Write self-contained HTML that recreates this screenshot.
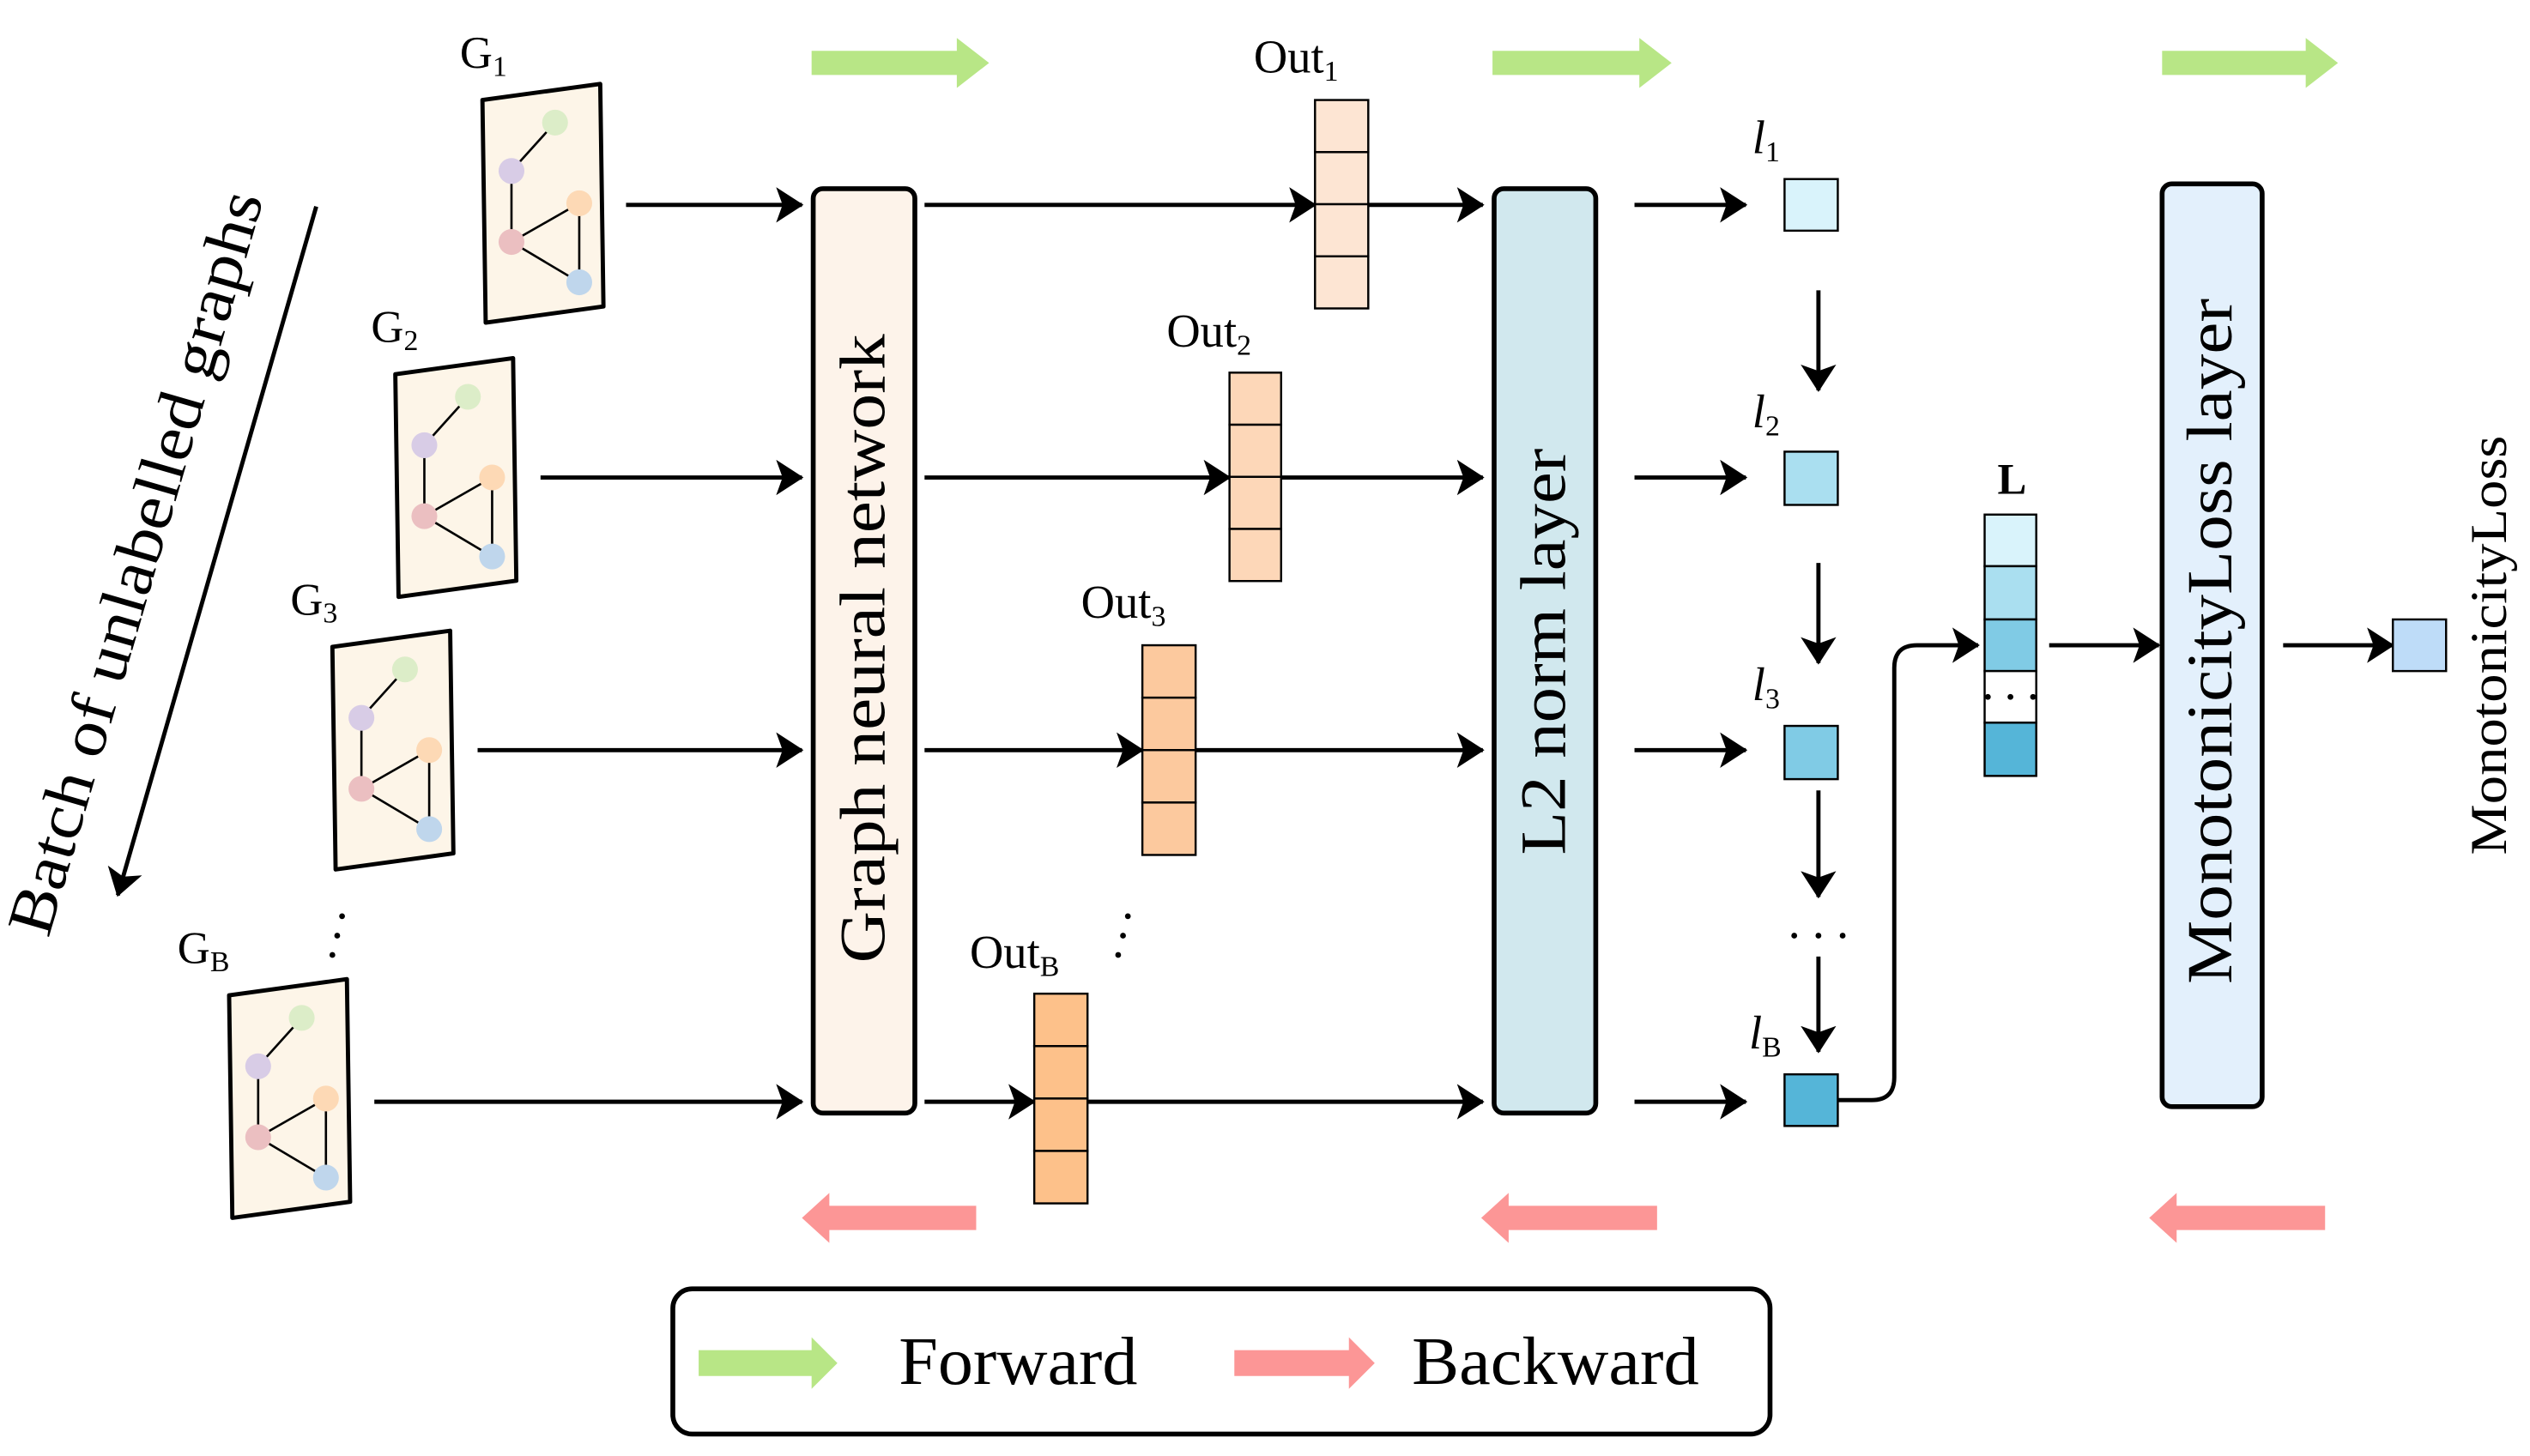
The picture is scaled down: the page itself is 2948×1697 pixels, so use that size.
<!DOCTYPE html>
<html><head><meta charset="utf-8"><style>
html,body{margin:0;padding:0;background:#fff;}
svg{display:block;}
text{font-family:"Liberation Serif",serif;fill:#000;}
</style></head><body>
<svg width="2948" height="1697" viewBox="0 0 1568 902.6" xmlns="http://www.w3.org/2000/svg">
<defs>
<marker id="ah" markerUnits="userSpaceOnUse" markerWidth="17" markerHeight="22" viewBox="0 0 17 22" refX="16" refY="11" orient="auto">
<path d="M0,0 L17,11 L0,22 L4,11 Z" fill="#000"/>
</marker>
<g id="card">
<path d="M299,62 L372,52 L374,190 L301,200 Z" fill="#fdf5e8" stroke="#000" stroke-width="2.6" stroke-linejoin="round"/>
<g stroke="#000" stroke-width="1.4">
<line x1="344" y1="76" x2="317" y2="106"/>
<line x1="317" y1="106" x2="317" y2="150"/>
<line x1="317" y1="150" x2="359" y2="126"/>
<line x1="317" y1="150" x2="359" y2="175"/>
<line x1="359" y1="126" x2="359" y2="175"/>
</g>
<circle cx="344" cy="76" r="8" fill="#dcedc8"/>
<circle cx="317" cy="106" r="8" fill="#d8cce6"/>
<circle cx="359" cy="126" r="8" fill="#fdd9b5"/>
<circle cx="317" cy="150" r="8" fill="#ebbfc1"/>
<circle cx="359" cy="175" r="8" fill="#bfd6ec"/>
</g>
</defs>

<g fill="#b8e686">
<path d="M503,31.5 H593 V23.5 L613,39 L593,54.5 V46.5 H503 Z"/>
<path d="M925,31.5 H1016 V23.5 L1036,39 L1016,54.5 V46.5 H925 Z"/>
<path d="M1340,31.5 H1429 V23.5 L1449,39 L1429,54.5 V46.5 H1340 Z"/>
</g>
<g fill="#fc9696">
<path d="M605,747.5 H514 V739.5 L497,755 L514,770.5 V762.5 H605 Z"/>
<path d="M1027,747.5 H935 V739.5 L918,755 L935,770.5 V762.5 H1027 Z"/>
<path d="M1441,747.5 H1349 V739.5 L1332,755 L1349,770.5 V762.5 H1441 Z"/>
</g>

<use href="#card"/>
<use href="#card" transform="translate(-54,170)"/>
<use href="#card" transform="translate(-93,339)"/>
<use href="#card" transform="translate(-157,555)"/>
<text x="285" y="42" font-size="28">G<tspan font-size="18" dy="5">1</tspan></text>
<text x="230" y="212" font-size="28">G<tspan font-size="18" dy="5">2</tspan></text>
<text x="180" y="381" font-size="28">G<tspan font-size="18" dy="5">3</tspan></text>
<text x="110" y="597" font-size="28">G<tspan font-size="18" dy="5">B</tspan></text>
<g fill="#000"><circle cx="206" cy="592" r="1.8"/><circle cx="209" cy="580" r="1.8"/><circle cx="212" cy="568" r="1.8"/></g>

<line x1="196" y1="128" x2="73" y2="555" stroke="#000" stroke-width="2.6" marker-end="url(#ah)"/>
<text transform="translate(30,582) rotate(-73.8)" font-size="40" textLength="478" lengthAdjust="spacingAndGlyphs">Batch of unlabelled graphs</text>

<g stroke="#000" stroke-width="2.6" fill="none" marker-end="url(#ah)">
<line x1="388" y1="127" x2="497" y2="127"/>
<line x1="335" y1="296" x2="497" y2="296"/>
<line x1="296" y1="465" x2="497" y2="465"/>
<line x1="232" y1="683" x2="497" y2="683"/>
</g>

<rect x="504" y="117" width="63" height="573" rx="6" fill="#fdf3ea" stroke="#000" stroke-width="3"/>
<text transform="translate(548,597) rotate(-90)" font-size="40" textLength="390" lengthAdjust="spacingAndGlyphs">Graph neural network</text>

<g stroke="#000" stroke-width="2.6" fill="none" marker-end="url(#ah)">
<line x1="573" y1="127" x2="815" y2="127"/>
<line x1="848" y1="127" x2="919" y2="127"/>
<line x1="573" y1="296" x2="762" y2="296"/>
<line x1="794" y1="296" x2="919" y2="296"/>
<line x1="573" y1="465" x2="708" y2="465"/>
<line x1="741" y1="465" x2="919" y2="465"/>
<line x1="573" y1="683" x2="641" y2="683"/>
<line x1="674" y1="683" x2="919" y2="683"/>
</g>
<g stroke="#000" stroke-width="1.3">
<g fill="#fde5d3"><rect x="815" y="62" width="33" height="32.3"/><rect x="815" y="94.3" width="33" height="32.3"/><rect x="815" y="126.6" width="33" height="32.3"/><rect x="815" y="158.9" width="33" height="32.3"/></g>
<g fill="#fdd7b8"><rect x="762" y="231" width="32" height="32.3"/><rect x="762" y="263.3" width="32" height="32.3"/><rect x="762" y="295.6" width="32" height="32.3"/><rect x="762" y="327.9" width="32" height="32.3"/></g>
<g fill="#fcc99e"><rect x="708" y="400" width="33" height="32.5"/><rect x="708" y="432.5" width="33" height="32.5"/><rect x="708" y="465" width="33" height="32.5"/><rect x="708" y="497.5" width="33" height="32.5"/></g>
<g fill="#fdc18a"><rect x="641" y="616" width="33" height="32.5"/><rect x="641" y="648.5" width="33" height="32.5"/><rect x="641" y="681" width="33" height="32.5"/><rect x="641" y="713.5" width="33" height="32.5"/></g>
</g>
<text x="777" y="45" font-size="29">Out<tspan font-size="18" dy="5">1</tspan></text>
<text x="723" y="215" font-size="29">Out<tspan font-size="18" dy="5">2</tspan></text>
<text x="670" y="383" font-size="29">Out<tspan font-size="18" dy="5">3</tspan></text>
<text x="601" y="600" font-size="29">Out<tspan font-size="18" dy="5">B</tspan></text>
<g fill="#000"><circle cx="693" cy="592" r="1.8"/><circle cx="696" cy="580" r="1.8"/><circle cx="699" cy="568" r="1.8"/></g>

<rect x="926" y="117" width="63" height="573" rx="6" fill="#d1e8ee" stroke="#000" stroke-width="3"/>
<text transform="translate(970,530) rotate(-90)" font-size="40" textLength="252" lengthAdjust="spacingAndGlyphs">L2 norm layer</text>

<g stroke="#000" stroke-width="2.6" fill="none" marker-end="url(#ah)">
<line x1="1013" y1="127" x2="1082" y2="127"/>
<line x1="1013" y1="296" x2="1082" y2="296"/>
<line x1="1013" y1="465" x2="1082" y2="465"/>
<line x1="1013" y1="683" x2="1082" y2="683"/>
<line x1="1127" y1="180" x2="1127" y2="242"/>
<line x1="1127" y1="349" x2="1127" y2="411"/>
<line x1="1127" y1="490" x2="1127" y2="556"/>
<line x1="1127" y1="593" x2="1127" y2="652"/>
<path d="M1139,682 H1160 Q1174,682 1174,668 V414 Q1174,400 1188,400 H1226"/>
<line x1="1270" y1="400" x2="1338" y2="400"/>
<line x1="1415" y1="400" x2="1483" y2="400"/>
</g>
<g stroke="#000" stroke-width="1.3">
<rect x="1106" y="111" width="33" height="32" fill="#d9f3fb"/>
<rect x="1106" y="280" width="33" height="33" fill="#aadff0"/>
<rect x="1106" y="450" width="33" height="33" fill="#80cbe5"/>
<rect x="1106" y="666" width="33" height="32" fill="#55b5d8"/>
</g>
<g fill="#000"><circle cx="1112" cy="580" r="1.8"/><circle cx="1127" cy="580" r="1.8"/><circle cx="1142" cy="580" r="1.8"/></g>
<text x="1086" y="95" font-size="29" font-style="italic">l<tspan font-style="normal" font-size="18" dy="5">1</tspan></text>
<text x="1086" y="265" font-size="29" font-style="italic">l<tspan font-style="normal" font-size="18" dy="5">2</tspan></text>
<text x="1086" y="434" font-size="29" font-style="italic">l<tspan font-style="normal" font-size="18" dy="5">3</tspan></text>
<text x="1084" y="650" font-size="29" font-style="italic">l<tspan font-style="normal" font-size="18" dy="5">B</tspan></text>

<g stroke="#000" stroke-width="1.3">
<rect x="1230" y="319" width="32" height="32" fill="#d9f3fb"/>
<rect x="1230" y="351" width="32" height="33" fill="#aadff0"/>
<rect x="1230" y="384" width="32" height="32" fill="#80cbe5"/>
<rect x="1230" y="416" width="32" height="32" fill="#fff"/>
<rect x="1230" y="448" width="32" height="33" fill="#55b5d8"/>
</g>
<g fill="#000"><circle cx="1232" cy="432" r="1.8"/><circle cx="1246" cy="432" r="1.8"/><circle cx="1260" cy="432" r="1.8"/></g>
<text x="1247" y="306" font-size="27" font-weight="bold" text-anchor="middle">L</text>

<rect x="1340" y="114" width="62" height="572" rx="6" fill="#e3f0fc" stroke="#000" stroke-width="3"/>
<text transform="translate(1383,610) rotate(-90)" font-size="40" textLength="425" lengthAdjust="spacingAndGlyphs">MonotonicityLoss layer</text>
<rect x="1483" y="384" width="33" height="32" fill="#bedcf8" stroke="#000" stroke-width="1.3"/>
<text transform="translate(1553,530) rotate(-90)" font-size="32" textLength="260" lengthAdjust="spacingAndGlyphs">MonotonicityLoss</text>

<rect x="417" y="799" width="680" height="90" rx="12" fill="#fff" stroke="#000" stroke-width="3"/>
<path d="M433,837 H503 V829 L519,845 L503,861 V853 H433 Z" fill="#b8e686"/>
<text x="557" y="858" font-size="42" textLength="148" lengthAdjust="spacingAndGlyphs">Forward</text>
<path d="M765,837 H836 V829 L852,845 L836,861 V853 H765 Z" fill="#fc9696"/>
<text x="875" y="858" font-size="42" textLength="178" lengthAdjust="spacingAndGlyphs">Backward</text>
</svg>
</body></html>
